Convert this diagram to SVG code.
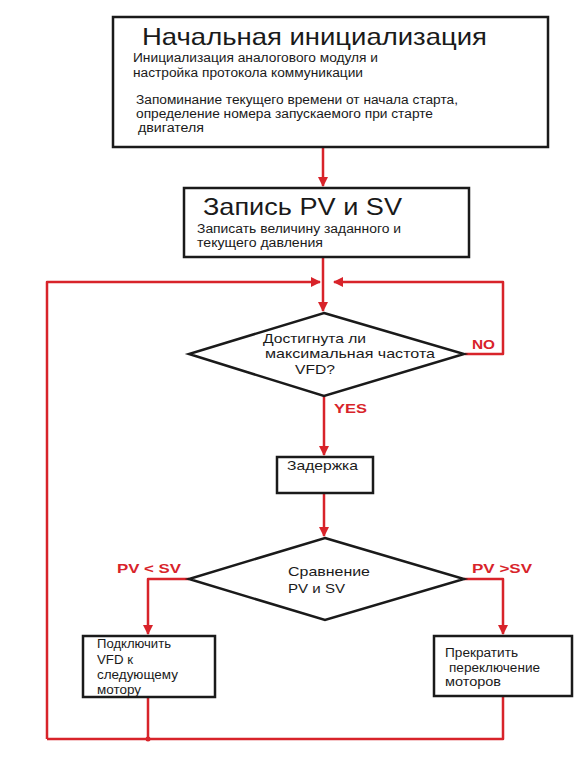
<svg xmlns="http://www.w3.org/2000/svg" width="587" height="759" viewBox="0 0 587 759">
<defs>
<style>
.box{fill:#fff;stroke:#1a1a1a;stroke-width:2.5}
.t{font-family:"Liberation Sans",Arial,sans-serif;fill:#1a1a1a}
.big{font-size:24px}
.sm{font-size:12px}
.md{font-size:13px}
.red{font-family:"Liberation Sans",Arial,sans-serif;fill:#d8232a;font-weight:bold;font-size:13px}
.ln{fill:none;stroke:#d8232a;stroke-width:2.5;stroke-linejoin:round}
</style>
<marker id="ah" viewBox="0 0 10 10" refX="9" refY="5" markerWidth="4" markerHeight="4" orient="auto" markerUnits="strokeWidth">
<path d="M0,0 L10,5 L0,10 z" fill="#d8232a"/>
</marker>
</defs>
<rect width="587" height="759" fill="#fff"/>
<g id="connectors">
<path class="ln" d="M323,148 V186" marker-end="url(#ah)"/>
<path class="ln" d="M323,257 V311" marker-end="url(#ah)"/>
<path class="ln" d="M47,739 V282 H320" marker-end="url(#ah)"/>
<path class="ln" d="M465,354 H503 V282 H334" marker-end="url(#ah)"/>
<path class="ln" d="M324,396 V455" marker-end="url(#ah)"/>
<path class="ln" d="M324,493 V536" marker-end="url(#ah)"/>
<path class="ln" d="M189,579 H148 V634" marker-end="url(#ah)"/>
<path class="ln" d="M464,579 H503 V634" marker-end="url(#ah)"/>
<path class="ln" d="M148,697 V739 M503,696 V739 H47"/>
<circle cx="148" cy="739" r="2.5" fill="#d8232a"/>
</g>
<g id="init">
<rect class="box" x="113" y="17" width="435" height="130"/>
<text class="t big" x="142" y="45" textLength="345" lengthAdjust="spacingAndGlyphs">Начальная инициализация</text>
<text class="t sm" x="133" y="62" textLength="245" lengthAdjust="spacingAndGlyphs">Инициализация аналогового модуля и</text>
<text class="t sm" x="133" y="77" textLength="230" lengthAdjust="spacingAndGlyphs">настройка протокола коммуникации</text>
<text class="t sm" x="136" y="104" textLength="322" lengthAdjust="spacingAndGlyphs">Запоминание текущего времени от начала старта,</text>
<text class="t sm" x="136" y="118" textLength="297" lengthAdjust="spacingAndGlyphs">определение номера запускаемого при старте</text>
<text class="t sm" x="138" y="132" textLength="66" lengthAdjust="spacingAndGlyphs">двигателя</text>
</g>
<g id="record">
<rect class="box" x="184" y="188" width="285" height="69"/>
<text class="t big" x="203" y="215" textLength="199" lengthAdjust="spacingAndGlyphs">Запись PV и SV</text>
<text class="t sm" x="197" y="233" textLength="204" lengthAdjust="spacingAndGlyphs">Записать величину заданного и</text>
<text class="t sm" x="197" y="247" textLength="126" lengthAdjust="spacingAndGlyphs">текущего давления</text>
</g>
<g id="check-max">
<path class="box" d="M324,313 L464,354 L324,396 L189,354 Z"/>
<text class="t md" x="263" y="343" textLength="103" lengthAdjust="spacingAndGlyphs">Достигнута ли</text>
<text class="t md" x="265" y="358" textLength="170" lengthAdjust="spacingAndGlyphs">максимальная частота</text>
<text class="t md" x="295" y="374" textLength="40" lengthAdjust="spacingAndGlyphs">VFD?</text>
<text class="red" x="472" y="349" textLength="23" lengthAdjust="spacingAndGlyphs">NO</text>
<text class="red" x="334" y="413" textLength="33" lengthAdjust="spacingAndGlyphs">YES</text>
</g>
<g id="delay">
<rect class="box" x="277" y="457" width="96" height="36"/>
<text class="t md" x="287" y="470" textLength="71" lengthAdjust="spacingAndGlyphs">Задержка</text>
</g>
<g id="compare">
<path class="box" d="M325,538 L464,579 L325,620 L189,579 Z"/>
<text class="t md" x="288" y="576" textLength="82" lengthAdjust="spacingAndGlyphs">Сравнение</text>
<text class="t md" x="288" y="593" textLength="57" lengthAdjust="spacingAndGlyphs">PV и SV</text>
<text class="red" x="117" y="573" textLength="64" lengthAdjust="spacingAndGlyphs">PV &lt; SV</text>
<text class="red" x="472" y="573" textLength="60" lengthAdjust="spacingAndGlyphs">PV &gt;SV</text>
</g>
<g id="connect-next">
<rect class="box" x="83" y="636" width="132" height="61"/>
<text class="t sm" x="97" y="648" textLength="74" lengthAdjust="spacingAndGlyphs">Подключить</text>
<text class="t sm" x="97" y="664" textLength="36" lengthAdjust="spacingAndGlyphs">VFD к</text>
<text class="t sm" x="97" y="679" textLength="81" lengthAdjust="spacingAndGlyphs">следующему</text>
<text class="t sm" x="97" y="694" textLength="44" lengthAdjust="spacingAndGlyphs">мотору</text>
</g>
<g id="stop-switch">
<rect class="box" x="434" y="636" width="138" height="60"/>
<text class="t sm" x="445" y="657" textLength="73" lengthAdjust="spacingAndGlyphs">Прекратить</text>
<text class="t sm" x="449" y="672" textLength="91" lengthAdjust="spacingAndGlyphs">переключение</text>
<text class="t sm" x="445" y="686" textLength="56" lengthAdjust="spacingAndGlyphs">моторов</text>
</g>
</svg>
